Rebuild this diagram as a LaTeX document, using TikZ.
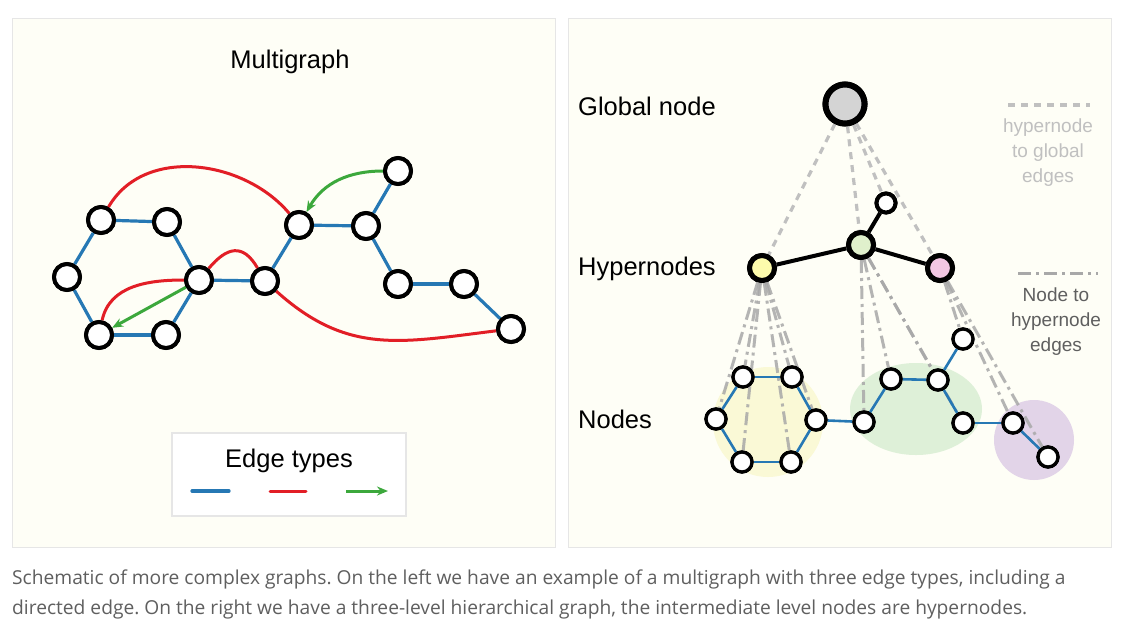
\documentclass[tikz,border=0pt]{standalone}
\usepackage{fontspec}
\setmainfont{Liberation Sans}
\newfontfamily\capfont{Open Sans}
\usetikzlibrary{arrows.meta}
\usetikzlibrary{positioning}
\frenchspacing

\definecolor{panelbg}{RGB}{254,254,246}
\definecolor{panelline}{RGB}{230,230,230}
\definecolor{eblue}{RGB}{38,120,180}
\definecolor{ered}{RGB}{226,30,38}
\definecolor{egreen}{RGB}{60,168,60}
\definecolor{gdash}{RGB}{192,192,192}
\definecolor{hdash}{RGB}{168,168,168}
\definecolor{gfill}{RGB}{212,212,212}
\definecolor{hyellow}{RGB}{253,251,172}
\definecolor{hgreen}{RGB}{224,240,204}
\definecolor{hpink}{RGB}{242,198,226}
\definecolor{blobyellow}{RGB}{250,249,214}
\definecolor{blobgreen}{RGB}{222,240,216}
\definecolor{blobpurple}{RGB}{226,212,232}
\definecolor{captxt}{RGB}{95,95,95}

\begin{document}
\begin{tikzpicture}[x=1pt,y=-1pt,
    mnode/.style={circle,draw,line width=4pt,fill=white,minimum size=26pt,inner sep=0pt},
    snode/.style={circle,draw,line width=3.3pt,fill=white,minimum size=20pt,inner sep=0pt},
    hyper/.style={circle,draw,line width=5pt,minimum size=25pt,inner sep=0pt},
    bedge/.style={eblue,line width=3.2pt},
    sedge/.style={eblue,line width=2.6pt},
    redge/.style={ered,line width=3pt},
    gedge/.style={egreen,line width=3pt,-{Stealth[length=11pt,width=9pt]}},
    kedge/.style={black,line width=4pt},
    glink/.style={gdash,line width=3.2pt,dash pattern=on 7pt off 6pt},
    nlink/.style={hdash,opacity=.85,line width=3pt,dash pattern=on 13pt off 5pt on 3pt off 5pt},
    lbl/.style={font=\fontsize{25.5}{30}\selectfont,inner sep=0pt}]

\useasboundingbox (0,0) rectangle (1126,630);
\fill[white] (0,0) rectangle (1126,630);
\draw[panelline,fill=panelbg] (12,18) rectangle (555,547);
\draw[panelline,fill=panelbg] (568,18) rectangle (1111,547);

% multigraph
\node[lbl,anchor=base] (mtitle) at (290,68) {Multigraph};

\node[mnode] (A) at (101,220) {};
\node[mnode] (B) at (167,222) {};
\node[mnode] (C) at (67,277) {};
\node[mnode] (D) at (199,280) {};
\node[mnode] (E) at (99,335) {};
\node[mnode] (F) at (166,335) {};
\node[mnode] (G) at (265,281) {};
\node[mnode] (H) at (299,225) {};
\node[mnode] (I) at (366,226) {};
\node[mnode] (J) at (398,171) {};
\node[mnode] (K) at (398,284) {};
\node[mnode] (L) at (464,284) {};
\node[mnode] (M) at (511,329) {};

\foreach \a/\b in {A/B,A/C,C/E,E/F,F/D,D/B,D/G,G/H,H/I,I/J,I/K,K/L,L/M}
    \draw[bedge] (\a) -- (\b);
\draw[redge] (A) to[out=60,in=130] (H);
\draw[redge] (E) to[out=78,in=180] (D);
\draw[redge] (D) to[out=50,in=120,looseness=1.5] (G);
\draw[redge] (G) to[out=-42,in=187,looseness=1.1] (M);
\draw[gedge] (D) -- (E);
\draw[gedge] (J) to[out=180,in=60] (H);

\foreach \n in {A,B,C,D,E,F,G,H,I,J,K,L,M}
    \node[mnode] at (\n) {};

\draw[panelline,line width=1.5pt,fill=white] (172,433) rectangle (406,516);
\node[lbl,anchor=base] (ltitle) at (289,467) {Edge types};
\coordinate (lb1) at (192,491); \coordinate (lb2) at (229,491);
\coordinate (lr1) at (270,491); \coordinate (lr2) at (306,491);
\coordinate (lg1) at (346,491); \coordinate (lg2) at (388,491);
\draw[bedge,line cap=round] (lb1) -- (lb2);
\draw[redge,line cap=round] (lr1) -- (lr2);
\draw[gedge] (lg1) -- (lg2);

% hierarchical graph
\node[lbl,anchor=base west] (tglob) at (578,115) {Global node};
\node[lbl,anchor=base west] (thyp) at (578,275) {Hypernodes};
\node[lbl,anchor=base west] (tnod) at (578,428) {Nodes};

\fill[blobyellow] (768,422) circle (55pt);
\fill[blobgreen] (916,409) ellipse [x radius=66pt,y radius=46pt];
\fill[blobpurple] (1034,440) circle (40pt);

\node[circle,draw,line width=6pt,fill=gfill,minimum size=39pt,inner sep=0pt] (glob) at (845,104) {};
\node[hyper,fill=hyellow] (hy) at (762,268) {};
\node[hyper,fill=hgreen] (hg) at (861,245) {};
\node[hyper,fill=hpink] (hp) at (940,268) {};
\node[snode,line width=4pt,minimum size=19pt] (hw) at (886,203) {};

\node[snode] (n1) at (743,377) {};
\node[snode] (n2) at (792,377) {};
\node[snode] (n3) at (716,419) {};
\node[snode] (n4) at (816,420) {};
\node[snode] (n5) at (742,462) {};
\node[snode] (n6) at (791,462) {};
\node[snode] (m1) at (864,422) {};
\node[snode] (m2) at (891,379) {};
\node[snode] (m3) at (938,380) {};
\node[snode] (m4) at (963,339) {};
\node[snode] (m5) at (963,423) {};
\node[snode] (p1) at (1013,423) {};
\node[snode] (p2) at (1048,457) {};

\foreach \h in {hy,hg,hp,hw}
    \draw[glink] (glob) -- (\h);
\foreach \h/\n in {hy/n1,hy/n2,hy/n3,hy/n4,hy/n5,hy/n6,hg/m1,hg/m2,hg/m3,hg/m5,hp/m4,hp/p1,hp/p2}
    \draw[nlink] (\h) -- (\n);

\foreach \a/\b in {n1/n2,n1/n3,n3/n5,n5/n6,n6/n4,n4/n2,n4/m1,m1/m2,m2/m3,m3/m4,m3/m5,m5/p1,p1/p2}
    \draw[sedge] (\a) -- (\b);
\draw[kedge] (hy) -- (hg);
\draw[kedge] (hg) -- (hp);
\draw[kedge] (hg) -- (hw);

\node[circle,draw,line width=6pt,fill=gfill,minimum size=39pt,inner sep=0pt] at (glob) {};
\node[hyper,fill=hyellow] at (hy) {};
\node[hyper,fill=hgreen] at (hg) {};
\node[hyper,fill=hpink] at (hp) {};
\node[snode,line width=4pt,minimum size=19pt] at (hw) {};
\foreach \n in {n1,n2,n3,n4,n5,n6,m1,m2,m3,m4,m5,p1,p2}
    \node[snode] at (\n) {};

\coordinate (gl1) at (1008,105); \coordinate (gl2) at (1090,105);
\coordinate (nl1) at (1018,273); \coordinate (nl2) at (1098,273);
\draw[glink] (gl1) -- (gl2);
\draw[nlink,opacity=1] (nl1) -- (nl2);
\node[gdash,align=center,font=\fontsize{19}{25}\selectfont,inner sep=0pt] (gtxt) at (1048,153) {hypernode\\to global\\edges};
\node[captxt,align=center,font=\fontsize{19}{25}\selectfont,inner sep=0pt] (ntxt) at (1056,322) {Node to\\hypernode\\edges};

% caption
\node[captxt,anchor=base west,inner sep=0pt,font=\capfont\fontsize{19.2}{24}\selectfont] (cap1) at (12,584)
    {Schematic of more complex graphs. On the left we have an example of a multigraph with three edge types, including a};
\node[captxt,anchor=base west,inner sep=0pt,font=\capfont\fontsize{19.2}{24}\selectfont] (cap2) at (12,614)
    {directed edge. On the right we have a three-level hierarchical graph, the intermediate level nodes are hypernodes.};
\end{tikzpicture}
\end{document}
